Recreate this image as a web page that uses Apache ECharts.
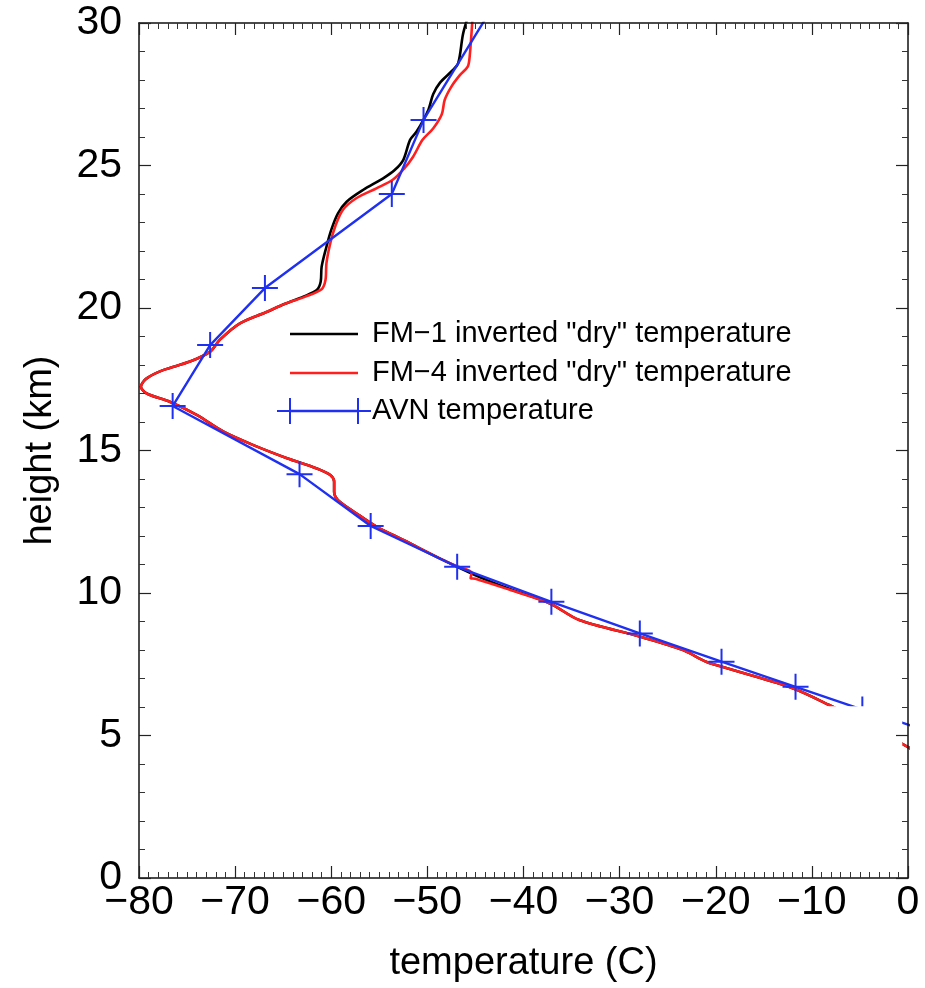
<!DOCTYPE html>
<html><head><meta charset="utf-8">
<script src="https://cdn.jsdelivr.net/npm/echarts/dist/echarts.min.js"></script>
<style>html,body{margin:0;padding:0;background:#fff}#c{width:925px;height:988px}</style>
</head><body><div id="c"></div>
<script>
// ---- data ----
const fm1Temp = [-45.8,-46.3,-46.8,-47.5,-48.7,-49.4,-49.9,-51.1,-51.8,-52.5,-53.4,-54.6,-56.7,-58.4,-59.3,-60.0,-60.5,-61.0,-61.1,-61.5,-62.9,-64.8,-66.8,-69.5,-71.6,-72.6,-74.7,-77.5,-79.2,-79.8,-79.2,-76.8,-74.0,-71.2,-68.1,-64.6,-61.5,-60.1,-59.7,-59.7,-59.3,-57.4,-55.3,-52.5,-48.4,-45.0,-41.5,-37.3,-34.2,-27.9,-23.4,-21.0,-18.2,-12.0,-8.2,-4.0,0.5];
const fm1Height = [30.2,29.6,28.58,28.3,27.9,27.5,26.95,26.2,25.9,25.2,24.84,24.55,24.14,23.73,23.32,22.74,22.15,21.45,20.92,20.63,20.4,20.15,19.85,19.46,18.88,18.47,18.12,17.82,17.53,17.24,17.0,16.71,16.25,15.66,15.19,14.73,14.37,14.14,13.9,13.55,13.26,12.8,12.33,11.86,11.16,10.62,10.15,9.64,9.05,8.47,8.0,7.59,7.3,6.66,6.07,5.35,4.5];

const fm4Temp = [-45.3,-45.6,-45.8,-46.6,-47.5,-48.2,-48.5,-49.4,-50.5,-51.5,-52.4,-53.6,-55.3,-57.4,-58.8,-59.6,-60.1,-60.5,-60.6,-61.0,-62.7,-64.8,-66.8,-69.5,-71.6,-72.6,-74.7,-77.5,-79.2,-79.8,-79.2,-76.8,-74.0,-71.2,-68.1,-64.6,-61.5,-60.1,-59.7,-59.7,-59.3,-57.4,-55.3,-52.5,-48.4,-47.0,-45.4,-45.5,-45.0,-41.5,-37.3,-34.2,-27.9,-23.4,-21.0,-18.2,-12.0,-8.2,-4.0,0.5];
const fm4Height = [30.2,28.82,28.47,28.18,27.77,27.3,26.8,26.3,25.9,25.3,24.9,24.5,24.2,23.85,23.44,22.85,22.27,21.57,20.98,20.66,20.4,20.15,19.85,19.46,18.88,18.47,18.12,17.82,17.53,17.24,17.0,16.71,16.25,15.66,15.19,14.73,14.37,14.14,13.9,13.55,13.26,12.8,12.33,11.86,11.16,10.95,10.72,10.52,10.5,10.12,9.64,9.05,8.47,8.0,7.59,7.3,6.66,6.07,5.35,4.5];

const avnTemp = [-41.5,-50.4,-53.7,-66.9,-72.6,-76.5,-63.3,-55.9,-46.9,-37.1,-27.9,-19.4,-11.7,-4.75,3.5];
const avnHeight = [31.5,26.6,24.0,20.7,18.7,16.56,14.17,12.35,10.92,9.69,8.58,7.59,6.71,5.91,5.0];

const xTicks = [-80,-70,-60,-50,-40,-30,-20,-10,0];
const xTickLabels = ['−80','−70','−60','−50','−40','−30','−20','−10','0'];
const yTicks = [0,5,10,15,20,25,30];
const yTickLabels = ['0','5','10','15','20','25','30'];
const seriesNames = ['FM−1 inverted "dry" temperature','FM−4 inverted "dry" temperature','AVN temperature'];
// blanked lower region of the original figure (data units)
const blankTMax = -0.6, blankHMax = 6.03;

// ---- chart ----
const zip = (a,b) => a.map((v,i)=>[v,b[i]]);
const plusPath = 'path://M0,12 L26,12 L26,14 L0,14 Z M12,0 L14,0 L14,26 L12,26 Z';
const FONT = 'Liberation Sans, Arial, Helvetica, sans-serif';
const BLACK = '#000000', RED = '#ff1f1f', BLUE = '#1f30f0';

const chart = echarts.init(document.getElementById('c'), null, {renderer:'canvas'});
const xLab = v => { const i = xTicks.indexOf(v); return i>=0 ? xTickLabels[i] : ''; };
const yLab = v => { const i = yTicks.indexOf(v); return i>=0 ? yTickLabels[i] : ''; };

const baseAxis = {
  axisLine:{show:true,onZero:false,lineStyle:{color:'#111',width:1.5}},
  axisTick:{show:true,inside:true,length:12,lineStyle:{color:'#222',width:1.2}},
  minorTick:{show:true,length:6,lineStyle:{color:'#333',width:1}},
  splitLine:{show:false}, z:100
};

chart.setOption({
  animation:false,
  backgroundColor:'#fff',
  grid:{left:139,right:17,top:23,bottom:110,containLabel:false},
  xAxis:[
    Object.assign({}, baseAxis, {type:'value',min:-80,max:0,interval:10,position:'bottom',
      minorTick:Object.assign({},baseAxis.minorTick,{splitNumber:10}),
      axisLabel:{formatter:xLab,fontSize:41,color:'#000',fontFamily:FONT,margin:4},
      name:'temperature (C)',nameLocation:'middle',nameGap:67,
      nameTextStyle:{fontSize:38,color:'#000',fontFamily:FONT}}),
    Object.assign({}, baseAxis, {type:'value',min:-80,max:0,interval:10,position:'top',
      minorTick:Object.assign({},baseAxis.minorTick,{splitNumber:10}),
      axisLabel:{show:false}})
  ],
  yAxis:[
    Object.assign({}, baseAxis, {type:'value',min:0,max:30,interval:5,position:'left',
      minorTick:Object.assign({},baseAxis.minorTick,{splitNumber:5}),
      axisLabel:{formatter:yLab,fontSize:41,color:'#000',fontFamily:FONT,margin:17},
      name:'height (km)',nameLocation:'middle',nameGap:79,nameRotate:90,
      nameTextStyle:{fontSize:38,color:'#000',fontFamily:FONT}}),
    Object.assign({}, baseAxis, {type:'value',min:0,max:30,interval:5,position:'right',
      minorTick:Object.assign({},baseAxis.minorTick,{splitNumber:5}),
      axisLabel:{show:false}})
  ],
  series:[
    {name:seriesNames[0],type:'line',data:zip(fm1Temp,fm1Height),smooth:0.3,showSymbol:false,symbol:'none',
     lineStyle:{color:BLACK,width:2.6},itemStyle:{color:BLACK},z:2,clip:true},
    {name:seriesNames[1],type:'line',data:zip(fm4Temp,fm4Height),smooth:0.3,showSymbol:false,symbol:'none',
     lineStyle:{color:RED,width:2.6},itemStyle:{color:RED},z:3,clip:true},
    {name:seriesNames[2],type:'line',data:zip(avnTemp,avnHeight),smooth:false,symbol:plusPath,symbolSize:26,
     showAllSymbol:true,lineStyle:{color:BLUE,width:2.4},itemStyle:{color:BLUE},z:4,clip:true}
  ]
});

// blank rectangle + legend drawn as graphics
const p0 = chart.convertToPixel({xAxisIndex:0,yAxisIndex:0},[-80,blankHMax]);
const p1 = chart.convertToPixel({xAxisIndex:0,yAxisIndex:0},[blankTMax,0]);
const lgX = 290, lgW = 68, lgText = 372, lgRows = [334, 373, 411];
const legendEls = [];
[BLACK, RED, BLUE].forEach((c,i)=>{
  legendEls.push({type:'line',shape:{x1:lgX,y1:lgRows[i],x2:lgX+lgW,y2:lgRows[i]},style:{stroke:c,lineWidth:2.4},z:60});
  legendEls.push({type:'text',x:lgText,y:lgRows[i],style:{text:seriesNames[i],fill:'#000',font:'29px '+FONT,textVerticalAlign:'middle',verticalAlign:'middle'},z:60});
});
[lgX, lgX+lgW].forEach(cx=>{
  legendEls.push({type:'rect',shape:{x:cx-13,y:lgRows[2]-1,width:26,height:2},style:{fill:BLUE},z:60});
  legendEls.push({type:'rect',shape:{x:cx-1,y:lgRows[2]-13,width:2,height:26},style:{fill:BLUE},z:60});
});
chart.setOption({graphic:[
  {type:'rect',shape:{x:p0[0]+1,y:p0[1],width:p1[0]-p0[0]-1,height:p1[1]-p0[1]},style:{fill:'#fff'},z:50,silent:true}
].concat(legendEls)});
</script>
</body></html>
